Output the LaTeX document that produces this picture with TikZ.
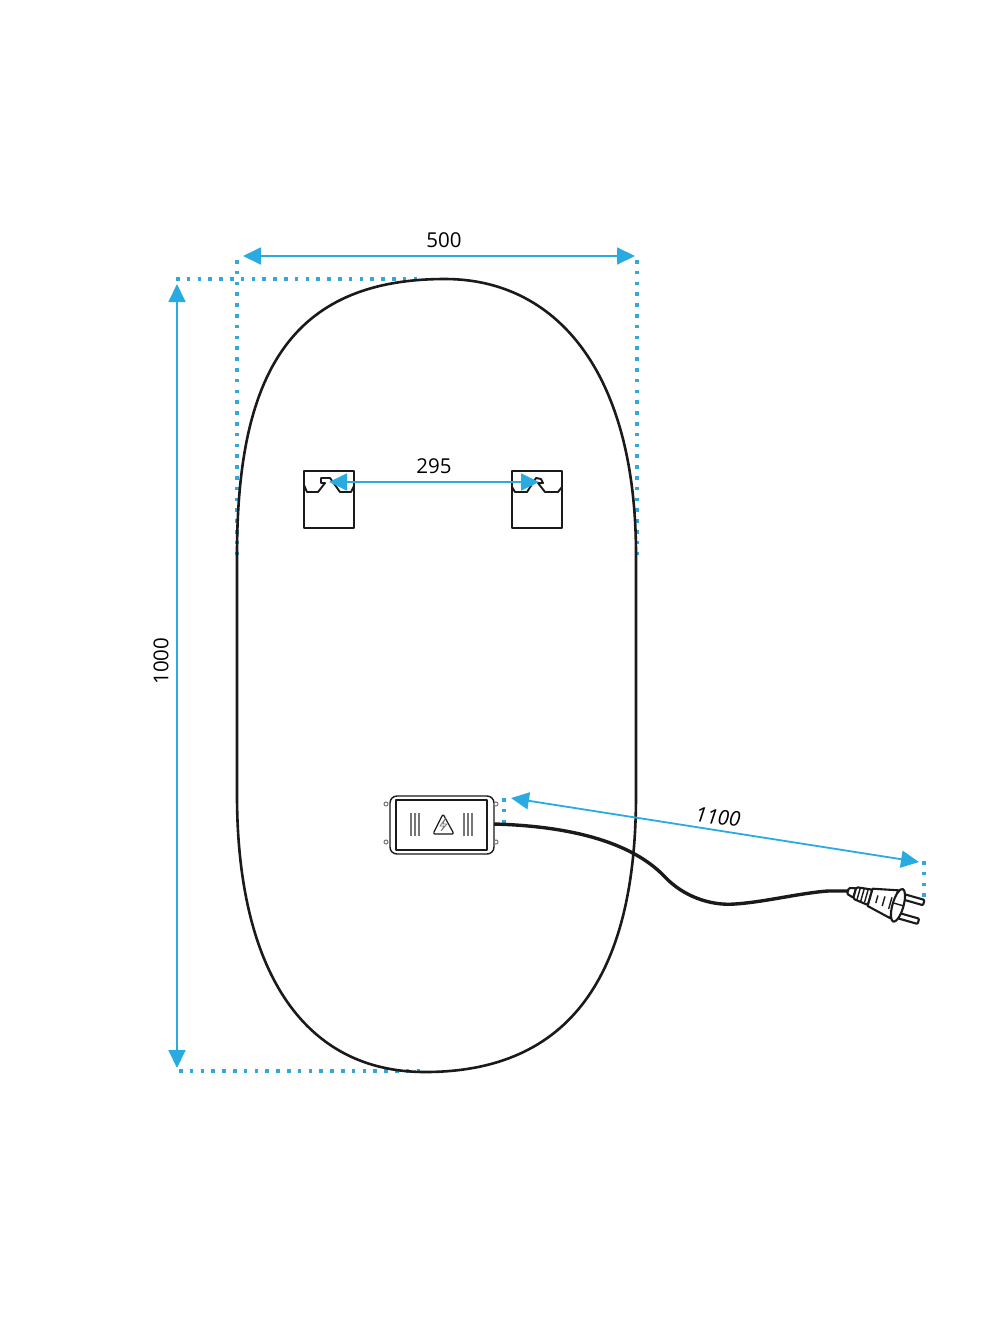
\documentclass[tikz,border=0pt]{standalone}
\usepackage{fontspec}
\setmainfont{Open Sans}
\usetikzlibrary{arrows.meta}
\definecolor{dimblue}{HTML}{29ABE2}
\definecolor{inkline}{HTML}{1A1A1A}
\tikzset{
  dimline/.style={draw=dimblue,line width=1.8pt,{Triangle[length=18pt,width=17pt]}-{Triangle[length=18pt,width=17pt]}},
  dotline/.style={draw=dimblue!90!gray,line width=3.4pt,dash pattern=on 3.6pt off 7.2pt},
  dimtext/.style={font=\fontsize{20.5}{24}\selectfont,text=black,inner sep=0pt},
  outline/.style={draw=inkline,line width=2.6pt},
  thin ink/.style={draw=inkline,line width=1.9pt,line join=round},
  hair/.style={draw=inkline!60,line width=1pt},
  cable/.style={draw=inkline,line width=3.4pt},
}
\begin{document}
\begin{tikzpicture}[x=1pt,y=-1pt]
\useasboundingbox[fill=white] (0,0) rectangle (1000,1334);
% dotted extension lines
\coordinate (d500La) at (237,260); \coordinate (d500Lb) at (237,556);
\coordinate (d500Ra) at (637,260); \coordinate (d500Rb) at (637,556);
\coordinate (d1000Ta) at (176,279); \coordinate (d1000Tb) at (420,279);
\coordinate (d1000Ba) at (179,1071); \coordinate (d1000Bb) at (425,1071);
\coordinate (d1100La) at (504,798); \coordinate (d1100Lb) at (504,826);
\coordinate (d1100Ra) at (924,861); \coordinate (d1100Rb) at (924,900);
\draw[dotline] (d500La) -- (d500Lb);
\draw[dotline] (d500Ra) -- (d500Rb);
\draw[dotline] (d1000Ta) -- (d1000Tb);
\draw[dotline] (d1000Ba) -- (d1000Bb);
\draw[dotline] (d1100La) -- (d1100Lb);
\draw[dotline] (d1100Ra) -- (d1100Rb);
% mirror outline
\draw[outline] (237,795) -- (237,555)
  .. controls (237,375) and (290,279) .. (445,279)
  .. controls (555,279) and (636,370) .. (636,555)
  -- (636,795)
  .. controls (636,975) and (570,1072) .. (425,1072)
  .. controls (300,1072) and (237,965) .. (237,795) -- cycle;
% brackets
\draw[thin ink] (304,471) rectangle (354,528);
\draw[thin ink] (304,485) -- (307,492) -- (318,492) -- (325,483) -- (321,483) -- (321,478) -- (330,478) -- (340,492) -- (351,492) -- (354,486);
\draw[thin ink] (512,471) rectangle (562,528);
\draw[thin ink] (512,487) -- (515,492) -- (527,492) -- (536,478) -- (541,479) -- (543,483) -- (538,483) -- (545,492) -- (558,492) -- (562,487);
% driver box
\draw[thin ink,line width=1.4pt,rounded corners=7pt] (390,796) rectangle (494,854);
\draw[thin ink,line width=1.3pt] (396,800) rectangle (487,850);
\foreach \p in {(386,804),(386,842),(496,804),(496,842)}
  \draw[hair,line width=1pt,fill=white] \p circle (2);
\foreach \x in {411,415,419,464,468,472}
  \draw[hair,line width=1.2pt] (\x,813) -- (\x,836);
\draw[thin ink,line width=1.2pt,rounded corners=2pt] (443,814) -- (454,834) -- (433,834) -- cycle;
\draw[hair,line width=0.7pt] (445,819) -- (440,826) -- (444,826) -- (441,831) -- (447,824) -- (443,824) -- cycle;
% cable
\coordinate (cableA) at (494,824);
\coordinate (cableB) at (848,891);
\draw[cable] (cableA) .. controls (565,826) and (630,840) .. (665,877)
  .. controls (683,896) and (710,906) .. (735,904)
  .. controls (765,902) and (800,893) .. (828,891)
  -- (cableB);
% plug
\begin{scope}[shift={(848,891)},rotate=-16,thin ink/.append style={line width=2.1pt}]
  \draw[thin ink,fill=white,rounded corners=1pt] (55,-12.5) rectangle (76,-7);
  \draw[thin ink,fill=white,rounded corners=1pt] (55,7) rectangle (76,12.5);
  \draw[thin ink,fill=white,rounded corners=1pt] (0,-3) -- (7,-5) -- (7,5) -- (0,3) -- cycle;
  \draw[thin ink,fill=white,rounded corners=1.5pt] (7,-6) -- (23,-8) -- (23,8) -- (7,6) -- cycle;
  \foreach \x in {11,15,19} \draw[thin ink,line width=1.4pt] (\x,-6.5) -- (\x,6.5);
  \draw[thin ink,fill=white] (23,-9) -- (48,-14.5) -- (48,14.5) -- (23,9) -- cycle;
  \foreach \x/\h in {30/4,37/5,44/6} \draw[thin ink,line width=1.4pt] (\x,-\h) -- (\x,\h);
  \draw[thin ink,fill=white] (52,0) ellipse (5.5 and 17);
  \draw[thin ink,line width=1.4pt] (46.5,-1) -- (57.5,-1);
\end{scope}
% dimensions
\coordinate (a500L) at (243,256); \coordinate (a500R) at (635,256);
\coordinate (a1000T) at (177,284); \coordinate (a1000B) at (177,1068);
\coordinate (a295L) at (329,482); \coordinate (a295R) at (539,482);
\coordinate (a1100L) at (511,798); \coordinate (a1100R) at (919,862);
\draw[dimline] (a500L) -- (a500R);
\draw[dimline] (a1000T) -- (a1000B);
\draw[dimline] (a295L) -- (a295R);
\draw[dimline] (a1100L) -- (a1100R);
\node[dimtext] (t500) at (444,240) {500};
\node[dimtext] (t295) at (434,466) {295};
\node[dimtext,rotate=90] (t1000) at (161,661) {1000};
\node[dimtext,rotate=-6,font=\fontsize{20.5}{24}\selectfont\itshape] (t1100) at (718,817) {1100};
\end{tikzpicture}
\end{document}
